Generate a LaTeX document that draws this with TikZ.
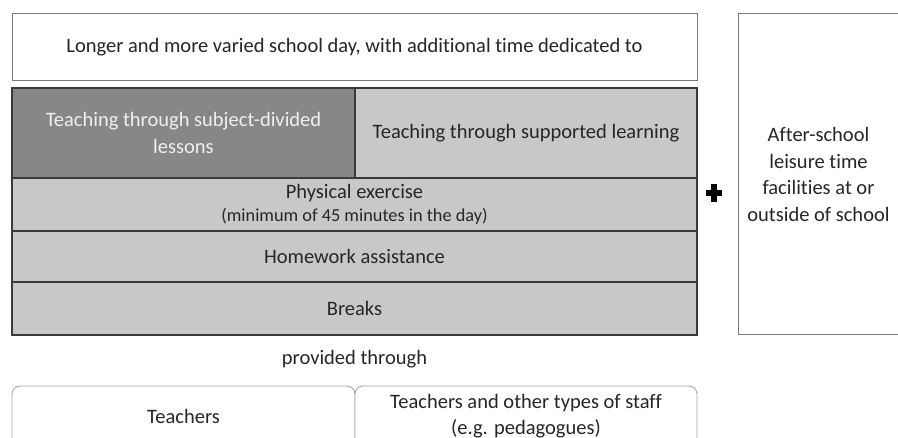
\documentclass[tikz,border=0pt]{standalone}
\usepackage{fontspec}
\setmainfont[Ligatures=NoCommon]{Carlito}
\definecolor{darkfill}{HTML}{878787}
\definecolor{lightfill}{HTML}{C8C8C8}
\definecolor{edgedark}{HTML}{3A3A3A}
\definecolor{edgegray}{HTML}{7A7A7A}
\definecolor{edgesoft}{HTML}{A6A6A6}
\definecolor{txt}{HTML}{262626}
\tikzset{
  base/.style={rectangle, inner sep=0pt, outer sep=0pt, align=center, font=\fontsize{20.5}{26.5}\selectfont, text=txt},
  whitebox/.style={base, draw=edgegray, line width=1pt, fill=white},
  graybox/.style={base, draw=edgedark, line width=1.2pt, fill=lightfill},
  darkbox/.style={base, draw=edgedark, line width=1.2pt, fill=darkfill, text=white!94!black},
  roundbox/.style={base, draw=edgesoft, line width=0.9pt, fill=white, rounded corners=8pt},
  plainlabel/.style={base}
}
\begin{document}
\begin{tikzpicture}[x=1pt,y=-1pt]
\useasboundingbox (0,0) rectangle (898,438);
\node[whitebox, minimum width=685pt, minimum height=67pt] (top) at (354.5,47.5)
  {Longer and more varied school day, with additional time dedicated to};
\node[darkbox, minimum width=343pt, minimum height=90pt] (subj) at (183.5,133)
  {Teaching through subject-divided\\lessons};
\node[graybox, minimum width=342pt, minimum height=90pt] (supp) at (526,133)
  {Teaching through supported learning};
\node[graybox, minimum width=685pt, minimum height=53pt] (phys) at (354.5,204.5)
  {Physical exercise\\[-4pt]{\fontsize{18.3}{22}\selectfont (minimum of 45 minutes in the day)}};
\node[graybox, minimum width=685pt, minimum height=51pt] (home) at (354.5,256.5)
  {Homework assistance};
\node[graybox, minimum width=685pt, minimum height=53pt] (breaks) at (354.5,308.5)
  {Breaks};
\node[whitebox, minimum width=161pt, minimum height=321pt] (after) at (818.5,174.5)
  {After-school\\leisure time\\facilities at or\\outside of school};
\node[plainlabel] (prov) at (354.5,359) {provided through};
\node[roundbox, minimum width=343pt, minimum height=60pt] (teach) at (183.5,416)
  {Teachers};
\node[roundbox, minimum width=342pt, minimum height=60pt] (staff) at (526,416)
  {Teachers and other types of staff\\[-1pt](e.g. pedagogues)};
\node[inner sep=0pt, outer sep=0pt, minimum size=18pt] (plus) at (714,193) {};
\fill[black] ([xshift=-8pt,yshift=-3pt]plus.center) rectangle ([xshift=8pt,yshift=3pt]plus.center);
\fill[black] ([xshift=-3pt,yshift=-9pt]plus.center) rectangle ([xshift=3pt,yshift=9pt]plus.center);
\end{tikzpicture}
\end{document}
